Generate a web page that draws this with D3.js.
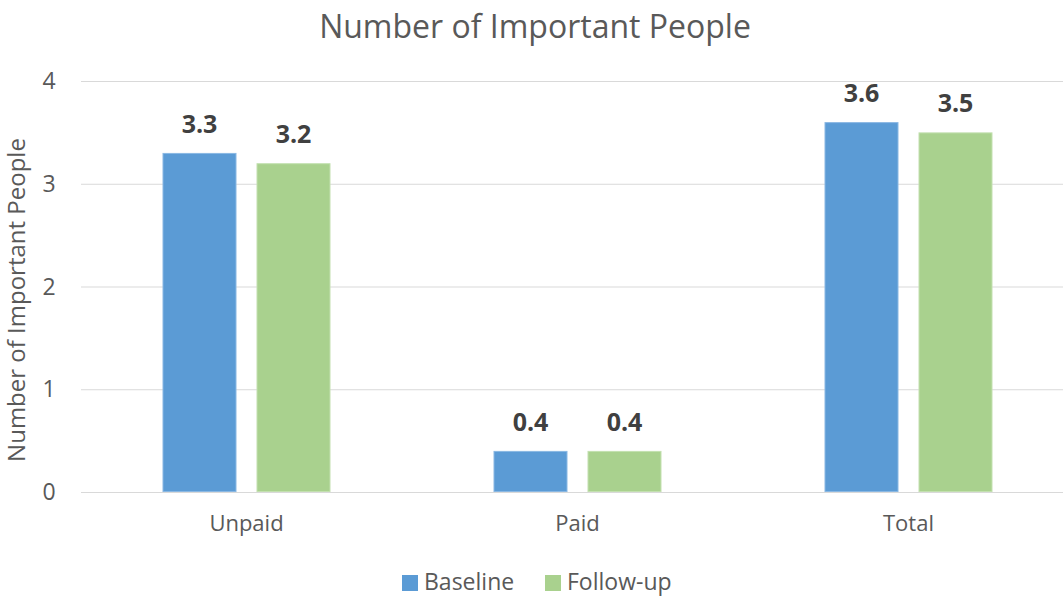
<!DOCTYPE html>
<html>
<head>
<meta charset="utf-8">
<script src="https://cdn.jsdelivr.net/npm/d3@7"></script>
<style>
  html, body { margin: 0; padding: 0; background: #fff; }
  svg { display: block; font-family: "Open Sans", "Noto Sans", sans-serif; }
</style>
</head>
<body>
<svg id="chart" width="1063" height="598"></svg>
<script>
// Chart data
const categories = ["Unpaid", "Paid", "Total"];
const seriesNames = ["Baseline", "Follow-up"];
const baselineValues = [3.3, 0.4, 3.6];
const followUpValues = [3.2, 0.4, 3.5];
const yTicks = [0, 1, 2, 3, 4];
const title = "Number of Important People";
const yAxisTitle = "Number of Important People";

const colors = { "Baseline": "#5B9BD5", "Follow-up": "#A9D18E" };
const strokes = { "Baseline": "#8AB8E3", "Follow-up": "#C3E0B0" };

const svg = d3.select("#chart");
const W = 1063, H = 598;
const plot = { left: 81, right: 1074, top: 81, bottom: 492 };
const textColor = "#595959";

const x0 = d3.scaleBand().domain(categories).range([plot.left, plot.right]);
const groupPad = (x0.bandwidth() - 168) / 2;
const x1 = d3.scaleBand().domain(seriesNames)
  .range([groupPad, groupPad + 168]).paddingInner(20 / 94).paddingOuter(0);
const y = d3.scaleLinear().domain([0, 4]).range([plot.bottom, plot.top]);

// Gridlines
svg.append("g").selectAll("line").data(yTicks).join("line")
  .attr("x1", plot.left).attr("x2", W)
  .attr("y1", d => y(d) + 0.5).attr("y2", d => y(d) + 0.5)
  .attr("stroke", "#d9d9d9").attr("stroke-width", 1);

// Y tick labels
svg.append("g").selectAll("text").data(yTicks).join("text")
  .attr("x", 49).attr("y", d => y(d))
  .attr("dy", "0.35em").attr("text-anchor", "middle")
  .attr("font-size", 23).attr("fill", textColor)
  .text(d => d);

// Bars
const rows = categories.map((c, i) => ({
  category: c,
  values: [
    { series: "Baseline", value: baselineValues[i] },
    { series: "Follow-up", value: followUpValues[i] }
  ]
}));

const groups = svg.append("g").selectAll("g").data(rows).join("g")
  .attr("transform", d => `translate(${x0(d.category)},0)`);

groups.selectAll("rect").data(d => d.values).join("rect")
  .attr("x", d => x1(d.series) + 0.5)
  .attr("y", d => y(d.value) + 0.5)
  .attr("width", x1.bandwidth() - 1)
  .attr("height", d => y(0) - y(d.value) - 1)
  .attr("fill", d => colors[d.series])
  .attr("stroke", d => strokes[d.series])
  .attr("stroke-width", 1);

groups.selectAll("text").data(d => d.values).join("text")
  .attr("x", d => x1(d.series) + x1.bandwidth() / 2)
  .attr("y", d => y(d.value) - 20)
  .attr("text-anchor", "middle")
  .attr("font-size", 25).attr("font-weight", "bold")
  .attr("fill", "#404040")
  .text(d => d.value.toFixed(1));

// Category labels
svg.append("g").selectAll("text").data(categories).join("text")
  .attr("x", d => x0(d) + x0.bandwidth() / 2)
  .attr("y", 531)
  .attr("text-anchor", "middle")
  .attr("font-size", 22).attr("fill", textColor)
  .text(d => d);

// Title
svg.append("text")
  .attr("x", 535).attr("y", 38)
  .attr("text-anchor", "middle")
  .attr("font-size", 32).attr("fill", textColor)
  .text(title);

// Y axis title
svg.append("text")
  .attr("transform", "translate(25,300) rotate(-90)")
  .attr("text-anchor", "middle")
  .attr("font-size", 24).attr("fill", textColor)
  .text(yAxisTitle);

// Legend
const legendItems = [
  { name: "Baseline", x: 402 },
  { name: "Follow-up", x: 545 }
];
const legend = svg.append("g");
legend.selectAll("rect").data(legendItems).join("rect")
  .attr("x", d => d.x).attr("y", 575)
  .attr("width", 16).attr("height", 16)
  .attr("fill", d => colors[d.name]);
legend.selectAll("text").data(legendItems).join("text")
  .attr("x", d => d.x + 22).attr("y", 590)
  .attr("font-size", 23).attr("fill", textColor)
  .text(d => d.name);
</script>
</body>
</html>
